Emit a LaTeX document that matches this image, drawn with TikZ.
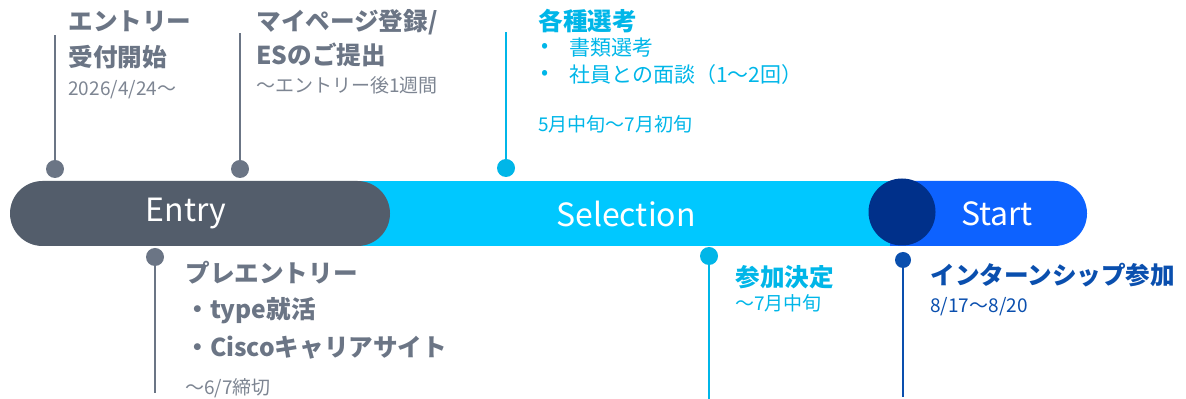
\documentclass[tikz,border=0pt]{standalone}
\usepackage{fontspec}
\setmainfont{Noto Sans CJK JP}
\definecolor{entrygray}{HTML}{535D6B}
\definecolor{markgray}{HTML}{6B7585}
\definecolor{notegray}{HTML}{7D8592}
\definecolor{selcyan}{HTML}{00C8FF}
\definecolor{markcyan}{HTML}{00B6E8}
\definecolor{startblue}{HTML}{0D62FF}
\definecolor{navy}{HTML}{00308A}
\definecolor{markblue}{HTML}{0A4FAE}
\tikzset{
  dot/.style={circle, fill=#1, inner sep=0pt, minimum size=9pt},
  pin/.style={line width=1.1pt, #1},
  title/.style={anchor=west, inner sep=0pt, font=\bfseries\fontsize{12.3}{14}\selectfont},
  note/.style={anchor=west, inner sep=0pt, font=\fontsize{9.5}{11}\selectfont},
  item/.style={anchor=west, inner sep=0pt, font=\fontsize{10.5}{12}\selectfont},
  phase/.style={inner sep=0pt, text=white, font=\fontsize{16}{19}\selectfont}
}
\begin{document}
\begin{tikzpicture}[x=0.5pt, y=-0.5pt]
      \useasboundingbox (0,0) rectangle (1186,399);

      % the bar
      \fill [selcyan] (360,181) rectangle (930,246);
      \fill [startblue] (890,181) -- (1054.5,181)
          arc[start angle=90, end angle=-90, radius=16.25pt] -- (890,246) -- cycle;
      \fill [entrygray, rounded corners=16.25pt] (10,181) rectangle (390,246);
      \node (S) [circle, fill=navy, inner sep=0pt, minimum size=33.5pt] at (902,212) {};

      \node (Entry)     [phase] at (186,214) {Entry};
      \node (Selection) [phase] at (626,214) {Selection};
      \node (Start)     [phase] at (997,214) {Start};

      % upper marks
      \node (D1) [dot=markgray] at (55,169)  {};
      \node (D2) [dot=markgray] at (240,169) {};
      \node (D3) [dot=markcyan] at (506,168) {};
      \coordinate (T1) at (55,35);
      \coordinate (T2) at (240,33);
      \coordinate (T3) at (506,32);

      \path [pin=markgray] (D1) edge (T1);
      \path [pin=markgray] (D2) edge (T2);
      \path [pin=markcyan] (D3) edge (T3);

      % lower marks
      \node (D4) [dot=markgray] at (155,257) {};
      \node (D5) [dot=markcyan] at (709,256) {};
      \node (D6) [dot=markblue, minimum size=8pt] at (903,260) {};
      \coordinate (B4) at (155,393);
      \coordinate (B5) at (709,399);
      \coordinate (B6) at (903,397);

      \path [pin=markgray] (D4) edge (B4);
      \path [pin=markcyan] (D5) edge (B5);
      \path [pin=markblue] (D6) edge (B6);

      % upper labels
      \node (L1a) [title, text=markgray] at (68,21) {エントリー};
      \node (L1b) [title, text=markgray] at (68,57) {受付開始};
      \node (L1c) [note, text=notegray]  at (68,90) {2026/4/24～};

      \node (L2a) [title, text=markgray] at (256,22) {マイページ登録/};
      \node (L2b) [title, text=markgray] at (256,55) {ESのご提出};
      \node (L2c) [note, text=notegray]  at (256,85) {～エントリー後1週間};

      \node (L3a) [title, text=markcyan] at (538,21) {各種選考};
      \node (L3b) [item, text=markcyan]  at (541,48) {•};
      \node (L3c) [item, text=markcyan]  at (569,48) {書類選考};
      \node (L3d) [item, text=markcyan]  at (541,75) {•};
      \node (L3e) [item, text=markcyan]  at (569,75) {社員との面談（1～2回）};
      \node (L3f) [note, text=markcyan]  at (538,124) {5月中旬～7月初旬};

      % lower labels
      \node (L4a) [title, text=markgray] at (185,273) {プレエントリー};
      \node (L4b) [title, text=markgray] at (185,311) {・type就活};
      \node (L4c) [title, text=markgray] at (185,348) {・Ciscoキャリアサイト};
      \node (L4d) [note, text=notegray]  at (185,388) {～6/7締切};

      \node (L5a) [title, text=markcyan] at (735,277) {参加決定};
      \node (L5b) [note, text=markcyan]  at (735,303) {～7月中旬};

      \node (L6a) [title, text=markblue] at (930,275) {インターンシップ参加};
      \node (L6b) [note, text=markblue]  at (930,307) {8/17～8/20};
    \end{tikzpicture}
\end{document}
